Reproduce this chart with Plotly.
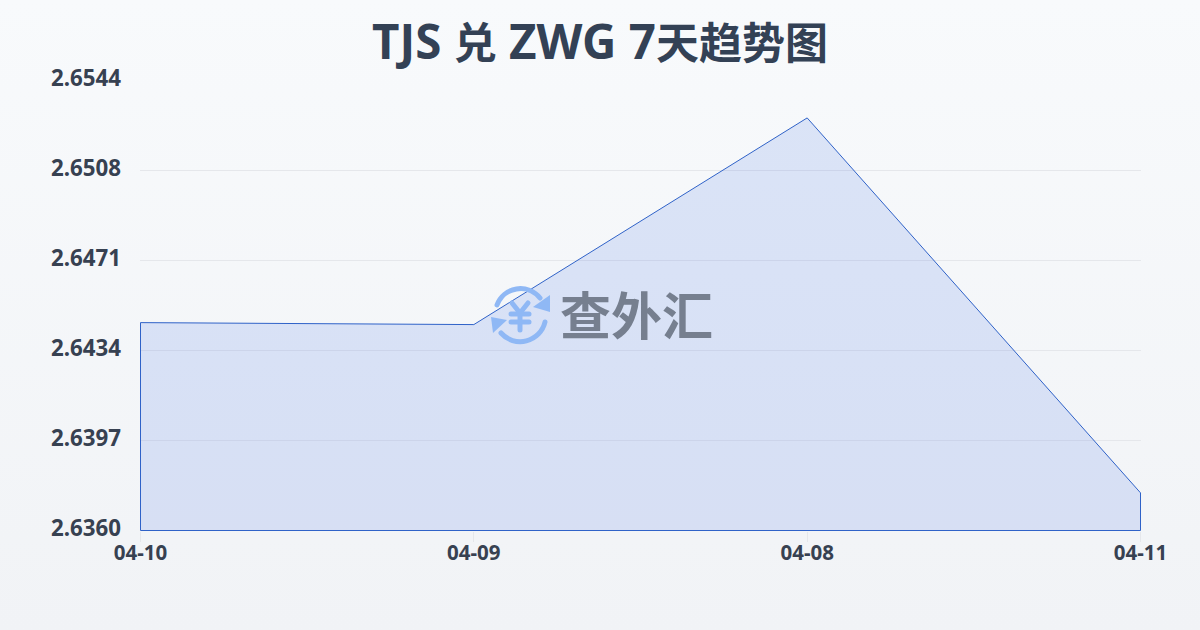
import urllib.parse
import plotly.graph_objects as go

dates = ["04-10", "04-09", "04-08", "04-11"]
rates = [2.64454, 2.64446, 2.65291, 2.63758]
y_ticks = [2.63604, 2.63972, 2.64340, 2.64708, 2.65076, 2.65444]

title_html = ("<span style='font-size:47.5px'>TJS </span>兑"
              "<span style='font-size:47.5px'> ZWG 7</span>天趋势图")
brand = "查外汇"
FONT = "'Noto Sans', 'Noto Sans CJK SC', sans-serif"
INK = "#374151"

base = y_ticks[0]
xs = [dates[0]] + dates + [dates[-1], dates[0]]
ys = [base] + rates + [base, base]

bg_svg = ("<svg xmlns='http://www.w3.org/2000/svg' width='1200' height='630' preserveAspectRatio='none'>"
          "<defs><linearGradient id='g' x1='0' y1='0' x2='0' y2='1'>"
          "<stop offset='0' stop-color='#f8fafc'/><stop offset='1' stop-color='#f1f3f6'/>"
          "</linearGradient></defs><rect width='1200' height='630' fill='url(#g)'/></svg>")

icon_svg = ("<svg xmlns='http://www.w3.org/2000/svg' width='60' height='60' viewBox='0 0 60 60'>"
            "<g fill='none' stroke='#8fb8f5' stroke-width='5' stroke-linecap='round'>"
            "<path d='M7 20 A25 25 0 0 1 50 13'/>"
            "<path d='M55 37 A25.5 25.5 0 0 1 11 48'/></g>"
            "<path d='M60 27 L43 22 L60 10 Z' fill='#8fb8f5'/>"
            "<path d='M1 32 L17 35 L3 48 Z' fill='#8fb8f5'/>"
            "<g fill='none' stroke='#8fb8f5' stroke-width='5' stroke-linecap='round' stroke-linejoin='round'>"
            "<path d='M22 18 L30 28 L38 18'/><path d='M30 28 L30 45'/>"
            "<path d='M21 29 L39 29'/><path d='M21 37 L39 37'/></g></svg>")


def uri(svg):
    return "data:image/svg+xml," + urllib.parse.quote(svg)


fig = go.Figure(go.Scatter(
    x=xs, y=ys, mode="lines", fill="toself",
    fillcolor="rgba(59,110,225,0.15)",
    line=dict(color="#2f62c8", width=1),
    cliponaxis=False, hoverinfo="skip",
))

PW, PH = 1001, 451  # plot area in pixels (half a pixel of padding per side)
L, T = 140, 80
pad_x = 0.0015
pad_y = 0.00002
fig.update_layout(
    width=1200, height=630,
    margin=dict(l=L, r=1200 - L - PW, t=T, b=630 - T - PH),
    paper_bgcolor="rgba(0,0,0,0)", plot_bgcolor="rgba(0,0,0,0)",
    showlegend=False,
    font=dict(family=FONT, color=INK),
    title=dict(text=title_html, x=0.5, xanchor="center", y=0.93, yanchor="middle",
               font=dict(size=43, family=FONT, color="#334155", weight="bold")),
    xaxis=dict(type="category", categoryorder="array", categoryarray=dates,
               range=[-pad_x, len(dates) - 1 + pad_x], showgrid=False, zeroline=False,
               showline=False, ticks="outside", ticklen=10, tickcolor="#e5e7eb", tickwidth=1,
               ticklabelstandoff=-7,
               tickfont=dict(size=20.5, family=FONT, color=INK, weight="bold")),
    yaxis=dict(range=[y_ticks[0] - pad_y, y_ticks[-1] + pad_y], tickvals=y_ticks, tickformat=".4f",
               showgrid=True, gridcolor="#e5e7eb", gridwidth=1, zeroline=False,
               showline=False, ticks="", ticklabelstandoff=18, ticklabelshift=-2,
               tickfont=dict(size=22.3, family=FONT, color=INK, weight="bold")),
    images=[
        dict(source=uri(bg_svg), xref="paper", yref="paper", x=-L/PW, y=1+T/PH,
             sizex=1200/PW, sizey=630/PH, sizing="stretch", xanchor="left", yanchor="top",
             layer="below"),
        dict(source=uri(icon_svg), xref="paper", yref="paper", x=(490-L)/PW, y=1-(285-T)/PH,
             sizex=60/PW, sizey=60/PH, xanchor="left", yanchor="top", layer="above"),
    ],
    annotations=[dict(text=brand, xref="paper", yref="paper", x=(636-L)/PW, y=1-(315-T)/PH,
                      xanchor="center", yanchor="middle", showarrow=False,
                      font=dict(size=51, family=FONT, color="#767f8f", weight="bold"))],
)

fig.write_html("out.html", config={"displayModeBar": False},
               post_script="document.body.style.margin='0';")
